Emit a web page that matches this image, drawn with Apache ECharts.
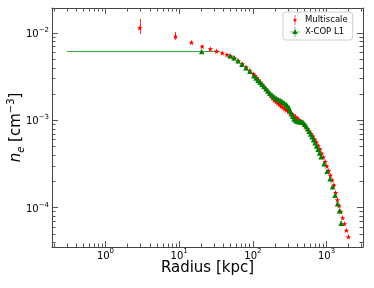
<!DOCTYPE html>
<html><head><meta charset="utf-8">
<script src="https://cdn.jsdelivr.net/npm/echarts@6/dist/echarts.min.js"></script>
<style>html,body{margin:0;padding:0;background:#fff}#c{width:374px;height:288px}</style>
</head><body><div id="c"></div>
<script>
// ---- data ----
const msR = [2.92, 8.93, 14.7, 20.5, 26.5, 32.2, 38.4, 44.5, 50.4, 56.6, 63.7, 72.2, 81.1, 90.5, 101, 106.8, 113, 119.3, 126, 133.3, 141, 148.8, 157, 165.8, 175, 184.7, 195, 206.2, 218, 230.2, 243, 256.6, 271, 286.6, 303, 320, 338, 357, 377, 398, 420, 443.8, 469, 495.3, 523, 552.7, 584, 616.6, 651, 688, 727, 767.8, 811, 856.7, 905, 955.6, 1009, 1066, 1126, 1190, 1257, 1328, 1402, 1481, 1564, 1652, 1745, 1858, 1978];
const msNe = [0.01141, 0.00914, 0.00780, 0.00702, 0.00656, 0.00619, 0.00590, 0.00564, 0.00540, 0.00514, 0.00479, 0.00443, 0.00406, 0.00372, 0.00342, 0.003246, 0.00308, 0.0029, 0.00273, 0.002574, 0.002426, 0.002296, 0.002172, 0.002038, 0.001913, 0.001803, 0.001699, 0.001633, 0.00157, 0.001509, 0.00145, 0.0014, 0.001351, 0.001307, 0.001265, 0.001224, 0.001184, 0.001144, 0.001105, 0.001062, 0.001021, 0.000979, 0.000939, 0.000888, 0.00084, 0.000794, 0.00075, 0.000702, 0.000657, 0.000607, 0.000561, 0.000512, 0.000467, 0.00042, 0.000378, 0.000336, 0.000298, 0.000265, 0.000235, 0.000206, 0.0001805, 0.000149, 0.0001231, 0.000105, 0.0000897, 0.0000766, 0.0000654, 0.0000551, 0.0000464];
const msErrLo = [0.00167, 0.00076, 0.00025, 0.0002, 0.00015, 0.00012, 0.00012, 0.00011, 0.00011, 0.0001, 0.0001, 0.00009, 0.00008, 0.00008, 0.00007, 0.00007, 0.00006, 0.00006, 0.00006, 0.00005, 0.00005, 0.00005, 0.00005, 0.00004, 0.00004, 0.00004, 0.00004, 0.00004, 0.00004, 0.00004, 0.00004, 0.00004, 0.00004, 0.00004, 0.00004, 0.00004, 0.00003, 0.00003, 0.00003, 0.00003, 0.00003, 0.00003, 0.00003, 0.00003, 0.00003, 0.00002, 0.00002, 0.00002, 0.00002, 0.00002, 0.00002, 0.000017, 0.000015, 0.000014, 0.000012, 0.000011, 0.00001, 0.000009, 0.000008, 0.000007, 0.000006, 0.000005, 0.000004, 0.0000035, 0.000003, 0.0000027, 0.0000024, 0.000002, 0.0000018];
const msErrHi = [0.00306, 0.00113, 0.00025, 0.0002, 0.00015, 0.00012, 0.00012, 0.00011, 0.00011, 0.0001, 0.0001, 0.00009, 0.00008, 0.00008, 0.00007, 0.00007, 0.00006, 0.00006, 0.00006, 0.00005, 0.00005, 0.00005, 0.00005, 0.00004, 0.00004, 0.00004, 0.00004, 0.00004, 0.00004, 0.00004, 0.00004, 0.00004, 0.00004, 0.00004, 0.00004, 0.00004, 0.00003, 0.00003, 0.00003, 0.00003, 0.00003, 0.00003, 0.00003, 0.00003, 0.00003, 0.00002, 0.00002, 0.00002, 0.00002, 0.00002, 0.00002, 0.000017, 0.000015, 0.000014, 0.000012, 0.000011, 0.00001, 0.000009, 0.000008, 0.000007, 0.000006, 0.000005, 0.000004, 0.0000035, 0.000003, 0.0000027, 0.0000024, 0.000002, 0.0000018];

const xcR = [20.2, 48.9, 55.4, 62.8, 71.1, 80.6, 91.3, 103.5, 110.2, 117.3, 124.9, 132.9, 141.5, 150.7, 160.4, 170.7, 181.7, 193.5, 206, 219.3, 233.5, 248.6, 264.6, 281.7, 295.2, 309.4, 321.7, 334.6, 347.9, 361.7, 379.1, 397.4, 416.4, 436.4, 457.3, 479.3, 502.3, 526.5, 551.8, 578.3, 606.1, 635.3, 665.9, 697.9, 731.3, 766.4, 803.4, 842.1, 924.8, 1016, 1116, 1206, 1305, 1411, 1502, 1574];
const xcNe = [0.00615, 0.005495, 0.005214, 0.004817, 0.004391, 0.004004, 0.003651, 0.003243, 0.003056, 0.002879, 0.002732, 0.002592, 0.002442, 0.002301, 0.002169, 0.002044, 0.001951, 0.001863, 0.001803, 0.001745, 0.001699, 0.001655, 0.001591, 0.001529, 0.00146, 0.001394, 0.001288, 0.00119, 0.001114, 0.001043, 0.001009, 0.000977, 0.00097, 0.000964, 0.000957, 0.000951, 0.000908, 0.000867, 0.000806, 0.00075, 0.000698, 0.000649, 0.0006, 0.000554, 0.000509, 0.000467, 0.000423, 0.000383, 0.000318, 0.000261, 0.000214, 0.0001735, 0.0001387, 0.0001108, 0.0000921, 0.0000663];
const xcRErrLo = [19.9, 1.5, 1.7, 1.9, 2.1, 2.4, 2.7, 3, 3.2, 3.4, 3.6, 3.9, 4.1, 4.4, 4.7, 5, 5.3, 5.6, 6, 6.4, 6.8, 7.2, 7.7, 8.2, 8.6, 9, 9.4, 9.7, 10, 10.5, 11, 11.5, 12, 12.7, 13.3, 14, 14.6, 15.3, 16, 16.8, 17.6, 18.4, 19.3, 20, 21, 22, 23, 24, 27, 30, 33, 35, 38, 41, 44, 46];
const xcRErrHi = [15.8, 1.5, 1.7, 1.9, 2.1, 2.4, 2.7, 3, 3.2, 3.4, 3.6, 3.9, 4.1, 4.4, 4.7, 5, 5.3, 5.6, 6, 6.4, 6.8, 7.2, 7.7, 8.2, 8.6, 9, 9.4, 9.7, 10, 10.5, 11, 11.5, 12, 12.7, 13.3, 14, 14.6, 15.3, 16, 16.8, 17.6, 18.4, 19.3, 20, 21, 22, 23, 24, 27, 30, 33, 35, 38, 41, 44, 46];
const xcNeErr = [0.0002, 0.00016, 0.00015, 0.00014, 0.00013, 0.00012, 0.00011, 0.0001, 0.00009, 0.00009, 0.00008, 0.00008, 0.00007, 0.00007, 0.00007, 0.00006, 0.00006, 0.00006, 0.00005, 0.00005, 0.00005, 0.00005, 0.00005, 0.00005, 0.00004, 0.00004, 0.00004, 0.00004, 0.00004, 0.00004, 0.00003, 0.00003, 0.00003, 0.00003, 0.00003, 0.00003, 0.00003, 0.00003, 0.00003, 0.00002, 0.00002, 0.00002, 0.00002, 0.00002, 0.000015, 0.000015, 0.000013, 0.000012, 0.00001, 0.000009, 0.000008, 0.000007, 0.000006, 0.000005, 0.000004, 0.000004];

const xMajor = [1, 10, 100, 1000];
const xMinor = [0.2, 0.3, 0.4, 0.5, 0.6, 0.7, 0.8, 0.9, 2, 3, 4, 5, 6, 7, 8, 9, 20, 30, 40, 50, 60, 70, 80, 90, 200, 300, 400, 500, 600, 700, 800, 900, 2000, 3000];
const yMajor = [0.0001, 0.001, 0.01];
const yMinor = [0.00004, 0.00005, 0.00006, 0.00007, 0.00008, 0.00009, 0.0002, 0.0003, 0.0004, 0.0005, 0.0006, 0.0007, 0.0008, 0.0009, 0.002, 0.003, 0.004, 0.005, 0.006, 0.007, 0.008, 0.009];
const seriesNames = ['Multiscale', 'X-COP L1'];

// ---- chart ----
const X_MIN = 0.188, X_MAX = 3123, Y_MIN = 3.55e-5, Y_MAX = 0.01934;
const FONT = 'DejaVu Sans';
const SPINE = '#444', TICK = '#555';
const RED_ERR = '#ff3030', GREEN_ERR = '#3ca83c';
const starPath = 'path://M10 0 L12.35 6.76 L19.51 6.91 L13.80 11.24 L15.88 18.09 L10 14 L4.12 18.09 L6.20 11.24 L0.49 6.91 L7.65 6.76 Z';
const msIcon = 'path://M9.4 0 L10.6 0 L10.6 20 L9.4 20 Z M10 5 L11.18 8.38 L14.76 8.45 L11.90 10.62 L12.94 14.05 L10 12 L7.06 14.05 L8.10 10.62 L5.24 8.45 L8.82 8.38 Z';
const xcIcon = 'path://M9.4 0 L10.6 0 L10.6 20 L9.4 20 Z M0 9.4 L20 9.4 L20 10.6 L0 10.6 Z M10 4.5 L15.5 14 L4.5 14 Z';

function powLabel(v) {
  const e = Math.round(Math.log10(v));
  return '{b|10}{e|' + (e < 0 ? '\u2212' + (-e) : e) + '}';
}
const labelRich = {
  b: { fontSize: 10, fontFamily: FONT, color: '#000', verticalAlign: 'bottom', lineHeight: 13 },
  e: { fontSize: 7, fontFamily: FONT, color: '#000', verticalAlign: 'top', lineHeight: 13 }
};

function axis(type, pos, min, max, major, extra) {
  return Object.assign({
    type: 'log', logBase: 10, min: min, max: max, position: pos,
    axisLine: { show: major, onZero: false, lineStyle: { color: SPINE, width: 1 } },
    axisTick: { show: true, inside: true, length: major ? 6 : 3.5,
      customValues: type === 'x' ? (major ? xMajor : xMinor) : (major ? yMajor : yMinor),
      lineStyle: { color: TICK, width: 1 } },
    axisLabel: { show: false },
    splitLine: { show: false }, minorTick: { show: false }
  }, extra || {});
}

const xAxes = [
  axis('x', 'bottom', X_MIN, X_MAX, true, {
    axisLabel: { show: true, customValues: xMajor, formatter: powLabel, rich: labelRich, margin: 1 },
    name: 'Radius [kpc]', nameLocation: 'middle', nameGap: 13.5, nameMoveOverlap: false,
    nameTextStyle: { fontSize: 15, fontFamily: FONT, color: '#000' }
  }),
  axis('x', 'bottom', X_MIN, X_MAX, false),
  axis('x', 'top', X_MIN, X_MAX, true),
  axis('x', 'top', X_MIN, X_MAX, false)
];
const yAxes = [
  axis('y', 'left', Y_MIN, Y_MAX, true, {
    axisLabel: { show: true, customValues: yMajor, formatter: powLabel, rich: labelRich, margin: 3 },
    name: '{i|n}{s|e} [cm{p|\u22123}]', nameLocation: 'middle', nameGap: 26, nameRotate: 90, nameMoveOverlap: false,
    nameTextStyle: { fontSize: 15, fontFamily: FONT, color: '#000', lineHeight: 20,
      rich: {
        i: { fontSize: 15, fontFamily: FONT, fontStyle: 'italic', color: '#000', lineHeight: 20 },
        s: { fontSize: 10, fontFamily: FONT, fontStyle: 'italic', color: '#000', verticalAlign: 'bottom', lineHeight: 20 },
        p: { fontSize: 10, fontFamily: FONT, color: '#000', verticalAlign: 'top', lineHeight: 20 }
      } }
  }),
  axis('y', 'left', Y_MIN, Y_MAX, false),
  axis('y', 'right', Y_MIN, Y_MAX, true),
  axis('y', 'right', Y_MIN, Y_MAX, false)
];

// error bars as 'lines' series segments (coordinates go through the axes)
const msErrLines = msR.map((r, i) => ({ coords: [[r, msNe[i] - msErrLo[i]], [r, msNe[i] + msErrHi[i]]] }));
const xcErrLines = [];
xcR.forEach((r, i) => {
  xcErrLines.push({ coords: [[r - xcRErrLo[i], xcNe[i]], [r + xcRErrHi[i], xcNe[i]]] });
  xcErrLines.push({ coords: [[r, xcNe[i] - xcNeErr[i]], [r, xcNe[i] + xcNeErr[i]]] });
});

const option = {
  animation: false,
  backgroundColor: '#fff',
  grid: { left: 52, right: 11, top: 8, bottom: 41, containLabel: false, outerBoundsMode: 'none' },
  xAxis: xAxes,
  yAxis: yAxes,
  legend: {
    data: [{ name: seriesNames[0], icon: msIcon }, { name: seriesNames[1], icon: xcIcon }],
    orient: 'vertical', left: 283, top: 12,
    itemWidth: 10, itemHeight: 10, itemGap: 2, itemTextGap: 11,
    padding: [3, 5, 3, 7],
    backgroundColor: '#fff', borderColor: '#cfcfcf', borderWidth: 1, borderRadius: 3,
    textStyle: { fontSize: 8.5, fontFamily: FONT, color: '#000', lineHeight: 10 }
  },
  series: [
    {
      type: 'lines', name: 'msErr', coordinateSystem: 'cartesian2d', xAxisIndex: 0, yAxisIndex: 0,
      silent: true, polyline: false, data: msErrLines,
      lineStyle: { color: RED_ERR, width: 1, opacity: 1, type: 'solid' }
    },
    {
      type: 'scatter', name: seriesNames[0], xAxisIndex: 0, yAxisIndex: 0,
      data: msR.map((r, i) => [r, msNe[i]]),
      symbol: starPath, symbolSize: 5.5,
      itemStyle: { color: '#ff0000', opacity: 1 }
    },
    {
      type: 'lines', name: 'xcErr', coordinateSystem: 'cartesian2d', xAxisIndex: 0, yAxisIndex: 0,
      silent: true, polyline: false, data: xcErrLines,
      lineStyle: { color: GREEN_ERR, width: 1.2, opacity: 1, type: 'solid' }
    },
    {
      type: 'scatter', name: seriesNames[1], xAxisIndex: 0, yAxisIndex: 0,
      data: xcR.map((r, i) => [r, xcNe[i]]),
      symbol: 'triangle', symbolSize: 5.5,
      itemStyle: { color: '#008000', opacity: 1 }
    }
  ]
};
const chart = echarts.init(document.getElementById('c'), null, { renderer: 'canvas' });
chart.setOption(option);
</script></body></html>
